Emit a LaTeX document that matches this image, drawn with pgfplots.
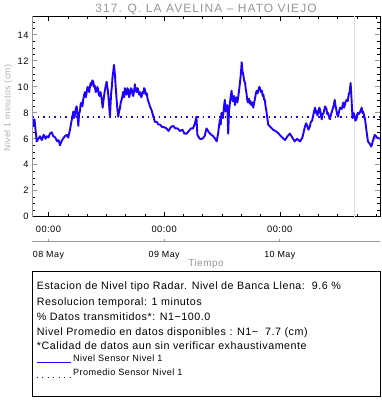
\documentclass[border=0pt]{standalone}
\usepackage{fontspec}
\setmainfont{Liberation Sans}[LetterSpace=5]
\newfontfamily\titlefont{Liberation Sans}[LetterSpace=9]
\usepackage{pgfplots}
\pgfplotsset{compat=1.18}
\definecolor{lineblue}{RGB}{30,0,255}
\definecolor{tgray}{RGB}{150,150,150}
\definecolor{lgray}{RGB}{175,175,175}
\begin{document}
\begin{tikzpicture}
\path[use as bounding box] (0pt,0pt) rectangle (382pt,404pt);
\node[tgray, font=\titlefont\fontsize{12}{14}\selectfont, anchor=base, inner sep=0pt] at (206pt,391.5pt) {317. Q. LA AVELINA – HATO VIEJO};
\begin{axis}[
  at={(32pt,187.3pt)}, anchor=south west, scale only axis,
  width=348pt, height=200.7pt,
  xmin=-3.42, xmax=68.8, ymin=0, ymax=15.46,
  xtick={0,24,48}, xticklabels={00:00,00:00,00:00},
  minor xtick={4,8,12,16,20,28,32,36,40,44,52,56,60,64,68},
  ytick={0,2,...,14},
  minor ytick={0.5,1,1.5,2.5,3,3.5,4.5,5,5.5,6.5,7,7.5,8.5,9,9.5,10.5,11,11.5,12.5,13,13.5,14.5,15},
  tick align=inside, major tick length=5pt, minor tick length=3pt,
  tick style={line width=0.5pt, black},
  every major y tick/.append style={tgray, line width=1pt},
  axis line style={line width=0.5pt},
  /pgf/number format/assume math mode=true,
  yticklabel style={font=\fontsize{9.3}{11}\selectfont},
  xticklabel style={font=\fontsize{9.3}{11}\selectfont, anchor=center, yshift=-12.6pt},
  ylabel={Nivel 1 minutos (cm)},
  ylabel style={at={(axis description cs:-0.069,0.5416)}, anchor=center, lgray, font=\fontsize{8.8}{11}\selectfont},
  legend style={at={(axis description cs:0.0115,-0.676)}, anchor=north west, draw=none, fill=none,
    font=\fontsize{9.1}{11}\selectfont, row sep=2.6pt, inner sep=0pt},
  legend cell align=left,
  legend image code/.code={\draw[lineblue,#1] (0pt,-4.3pt) -- (34pt,-4.3pt);},
]
\addplot[lgray!40, line width=0.5pt, forget plot] coordinates {(63.46,0) (63.46,15.46)};
\addplot[lineblue, line width=1.9pt, line join=round, forget plot] coordinates {
(-3.42,7.6) (-3.15,7.0) (-2.9,7.5) (-2.45,5.8) (-2.1,6.0) (-1.76,6.2) (-1.4,5.9) (-1.0,6.3)
(-0.6,6.0) (-0.37,6.2) (0.0,6.1) (0.3,6.4) (0.66,6.5) (1.0,6.2) (1.4,6.1) (1.8,5.8) (2.1,5.9)
(2.39,5.5) (2.7,5.8) (3.0,6.0) (3.4,6.2) (3.77,6.3) (4.1,6.1) (4.46,6.7) (4.8,7.4)
(5.15,8.1) (5.3,7.6) (5.5,7.8) (5.65,8.3) (5.85,8.5) (6.0,8.0) (6.19,7.0) (6.35,7.9) (6.5,8.1)
(6.7,8.7) (6.88,8.8) (7.05,8.5) (7.2,9.0) (7.4,9.4) (7.57,9.6) (7.75,9.2) (7.9,9.5) (8.1,10.0)
(8.26,9.9) (8.45,9.6) (8.6,10.0) (8.75,10.3) (8.9,10.1) (9.1,10.5) (9.3,10.4) (9.45,10.0)
(9.6,10.1) (9.8,9.6) (10.0,9.7) (10.15,10.0) (10.3,9.8) (10.45,9.4) (10.6,9.3) (10.8,9.6)
(11.03,9.1) (11.24,8.4) (11.4,8.9) (11.5,9.2) (11.65,9.6) (11.8,9.9) (11.95,10.2) (12.07,10.4)
(12.2,10.0) (12.3,9.8) (12.5,9.0) (12.76,7.7) (13.0,9.5) (13.15,10.0) (13.3,10.8) (13.45,11.2)
(13.59,11.7) (13.8,10.9) (13.95,10.0) (14.14,9.0) (14.3,8.3) (14.48,7.7) (14.65,8.1) (14.8,8.3)
(15.0,8.8) (15.18,9.0) (15.35,9.3) (15.5,9.6) (15.7,9.2) (15.87,9.9) (16.05,9.6) (16.2,9.4)
(16.4,9.9) (16.6,9.7) (16.75,9.2) (16.91,9.5) (17.1,9.9) (17.3,9.8) (17.45,9.4) (17.6,9.3)
(17.8,9.8) (17.94,10.2) (18.1,9.7) (18.3,9.6) (18.45,9.9) (18.6,9.8) (18.8,9.4) (18.98,9.6)
(19.15,9.3) (19.3,9.2) (19.5,9.6) (19.7,9.5) (19.85,9.9) (20.02,9.8) (20.2,9.4) (20.4,9.5)
(20.55,9.1) (20.7,8.9) (20.9,8.7) (21.05,8.5) (21.4,8.2) (21.7,7.8) (22.09,7.3) (22.5,7.3)
(22.8,7.1) (23.13,7.1) (23.6,6.9) (24.0,6.9) (24.5,6.8) (24.9,6.6) (25.4,6.9) (25.9,7.0)
(26.3,6.8) (26.8,6.8) (27.3,6.6) (27.8,6.7) (28.2,6.4) (28.7,6.4) (29.1,6.6) (29.6,6.8)
(30.0,6.8) (30.4,7.2) (30.7,7.7) (30.9,6.3) (31.4,6.0) (31.9,6.0) (32.4,6.2) (32.8,6.8)
(33.3,6.5) (33.8,6.3) (34.2,6.2) (34.6,6.0) (34.9,5.8)
(35.2,6.4) (35.4,7.0) (35.6,7.5) (35.75,7.1) (35.9,8.0) (36.05,7.7) (36.2,7.6) (36.4,8.4)
(36.6,9.0) (36.75,8.1) (36.9,8.3) (37.1,8.6) (37.3,6.4) (37.45,8.0) (37.6,8.6) (37.8,9.2)
(38.0,9.7) (38.15,9.0) (38.3,8.9) (38.5,9.3) (38.7,8.6) (38.85,9.0) (39.0,9.2) (39.2,8.8)
(39.4,9.3) (39.55,9.7) (39.7,10.2) (39.9,10.9) (40.1,11.9) (40.25,11.2) (40.4,11.0) (40.6,10.5)
(40.8,10.3) (40.95,9.8) (41.1,9.5) (41.25,9.0) (41.4,8.8) (41.6,9.1) (41.8,8.7) (41.95,8.9)
(42.1,8.6) (42.3,8.8) (42.5,8.4) (42.7,8.8) (42.9,9.2) (43.05,9.5) (43.2,9.7) (43.4,9.5)
(43.6,9.8) (43.75,10.0) (43.9,9.9) (44.1,9.6) (44.3,9.7) (44.45,9.3) (44.6,9.4) (44.75,9.0)
(44.9,9.0) (45.05,8.5) (45.2,8.2) (45.6,7.1) (46.1,6.9) (46.6,6.7) (47.1,6.6) (47.5,6.5)
(48.0,6.3) (48.5,6.1) (49.1,5.9) (49.6,6.2) (50.1,6.4) (50.6,6.1) (51.1,5.8) (51.6,6.0)
(52.2,5.8) (52.7,6.1)
(53.2,6.9) (53.45,7.2) (53.7,7.0) (53.95,6.7) (54.2,6.9) (54.45,7.3) (54.7,7.4) (55.0,7.9)
(55.3,8.4) (55.45,8.0) (55.6,8.2) (55.8,7.8) (56.0,8.0) (56.2,8.4) (56.4,8.2) (56.55,7.8)
(56.7,7.5) (56.9,7.9) (57.1,8.0) (57.4,8.5) (57.7,8.3) (57.85,7.9) (58.0,8.0) (58.2,7.7)
(58.4,7.5) (58.65,7.9) (58.9,8.2) (59.15,8.5) (59.4,9.0) (59.55,8.6) (59.7,8.3) (59.9,7.9)
(60.1,7.7) (60.3,8.1) (60.5,8.4) (60.85,8.3) (61.2,8.8) (61.35,8.4) (61.5,8.6) (61.7,8.9)
(61.9,9.0) (62.1,8.9) (62.3,9.4) (62.5,9.6) (62.7,10.3) (62.9,9.0) (63.1,7.6) (63.3,8.0)
(63.5,7.8) (63.7,7.4) (63.9,7.5) (64.15,8.0) (64.4,7.9) (64.7,8.1) (65.0,8.4) (65.15,8.0)
(65.3,8.1) (65.5,7.8) (65.7,7.5) (66.0,6.6) (66.3,5.8) (66.7,5.6) (67.0,5.4) (67.3,5.8)
(67.7,6.3) (68.2,6.1) (68.8,6.0)
};
\addplot[lineblue, line width=1.7pt, dash pattern=on 1.7pt off 3.8pt, forget plot] coordinates {(-3.42,7.7) (68.8,7.7)};
\addlegendimage{lineblue, line width=1pt}
\addlegendentry{Nivel Sensor Nivel 1}
\addlegendimage{lineblue, line width=1pt, dash pattern=on 1pt off 4.5pt}
\addlegendentry{Promedio Sensor Nivel 1}
\draw[tgray, line width=1.5pt] (axis description cs:0,0) -- (axis description cs:0,1);
\end{axis}
\begin{axis}[
  at={(32pt,162.3pt)}, anchor=south west, scale only axis,
  width=348pt, height=10pt,
  xmin=-3.42, xmax=68.8, ymin=0, ymax=1,
  axis x line=bottom, axis y line=none,
  x axis line style={-, tgray, line width=1pt},
  xtick={0,24,48}, xticklabels={08 May,09 May,10 May},
  tick align=inside, major tick length=3pt,
  tick style={tgray, line width=0.6pt},
  xticklabel style={font=\fontsize{8.9}{11}\selectfont, anchor=center, yshift=-14pt},
  xlabel={Tiempo},
  xlabel style={at={(axis description cs:0.5,0)}, anchor=center, yshift=-22pt, tgray, font=\fontsize{10}{12}\selectfont},
]
\addplot[draw=none] coordinates {(0,0.5)};
\end{axis}
\draw[black, line width=0.7pt] (32.3pt,7.3pt) rectangle (380pt,132.3pt);
\begin{scope}[every node/.style={anchor=base west, inner sep=0pt, font=\fontsize{10.7}{12}\selectfont}]
\node at (36.7pt,114.1pt) {Estacion de Nivel tipo Radar. Nivel de Banca Llena:\ \ 9.6 \%};
\node at (36.7pt,98.8pt) {Resolucion temporal: 1 minutos};
\node at (36.7pt,83.8pt) {\% Datos transmitidos*: N1−100.0};
\node at (36.7pt,68.1pt) {Nivel Promedio en datos disponibles : N1−\ \ 7.7 (cm)};
\node at (36.7pt,54.1pt) {*Calidad de datos aun sin verificar exhaustivamente};
\end{scope}
\end{tikzpicture}
\end{document}
